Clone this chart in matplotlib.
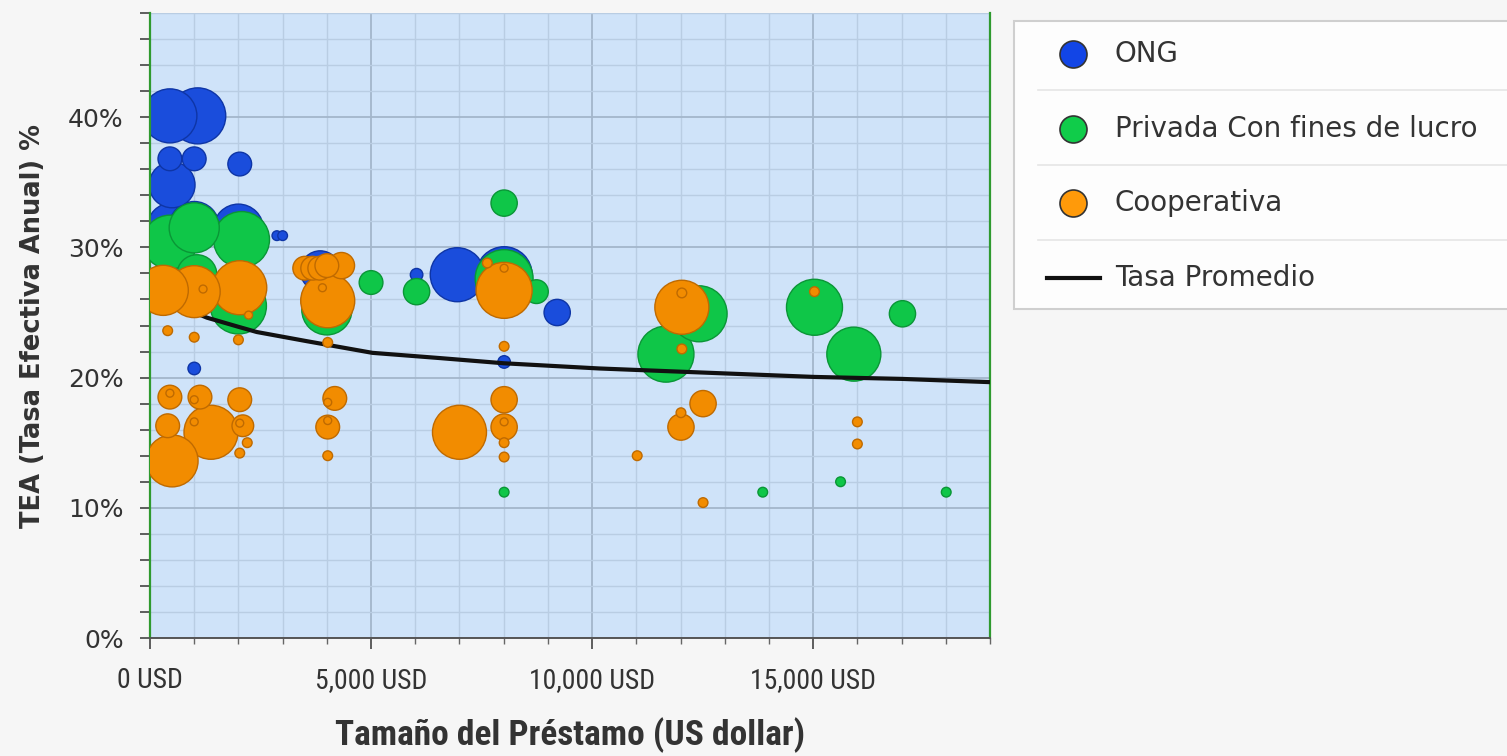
import numpy as np
import matplotlib
matplotlib.use("Agg")
import matplotlib.pyplot as plt
from matplotlib.ticker import MultipleLocator, FuncFormatter
from matplotlib.patches import Rectangle
from matplotlib import font_manager

# ---------------- data ----------------
series_names = ["ONG", "Privada Con fines de lucro", "Cooperativa"]
line_name = "Tasa Promedio"
x_label = "Tamaño del Préstamo (US dollar)"
y_label = "TEA (Tasa Efectiva Anual) %"

# ONG
ong_x = [450, 1080, 450, 1000, 2030, 500, 500, 1000, 2000, 2870, 3000, 3850, 6030, 6950, 8010, 9210, 1000, 8010]
ong_y = [40.1, 40.1, 36.8, 36.8, 36.4, 34.8, 31.5, 31.6, 31.4, 30.9, 30.9, 28.2, 27.9, 27.9, 27.9, 25.0, 20.7, 21.2]
ong_w = [93, 100, 18, 18, 18, 67, 80, 80, 80, 3, 3, 51, 5, 93, 100, 22, 5, 5]

# Privada con fines de lucro
priv_x = [450, 1000, 2070, 1060, 2000, 4000, 5000, 6030, 8010, 8010, 8740, 8010, 11670, 12420, 15030, 15920, 17020, 13860, 15620, 18010]
priv_y = [30.4, 31.5, 30.6, 27.9, 25.5, 25.2, 27.3, 26.6, 33.4, 27.6, 26.6, 11.2, 21.8, 24.9, 25.4, 21.8, 24.9, 11.2, 12.0, 11.2]
priv_w = [93, 80, 100, 51, 100, 80, 18, 22, 22, 107, 18, 3, 100, 100, 100, 93, 22, 3, 3, 3]

# Cooperativa
coop_x = [300, 1000, 2030, 1200, 2230, 400, 1000, 2000, 3500, 3680, 3840, 4000, 4330, 4020, 3900, 4020,
          450, 450, 1130, 1000, 2030, 400, 1380, 1000, 2100, 2030, 2200, 2030, 500,
          4180, 4020, 4020, 4020, 4020, 7000, 8010, 8010, 8010, 8010, 8010, 8010, 8010, 7630, 8010,
          12030, 12030, 12030, 12510, 12010, 12010, 11020, 12510, 15030, 16000, 16000]
coop_y = [26.7, 26.6, 26.9, 26.8, 24.8, 23.6, 23.1, 22.9, 28.4, 28.4, 28.4, 28.6, 28.6, 25.9, 26.9, 22.7,
          18.5, 18.8, 18.5, 18.3, 18.3, 16.3, 15.8, 16.6, 16.3, 16.5, 15.0, 14.2, 13.6,
          18.4, 18.1, 16.2, 16.7, 14.0, 15.8, 18.3, 16.2, 16.6, 15.0, 13.9, 22.4, 26.7, 28.8, 28.4,
          25.4, 26.5, 22.2, 18.0, 16.2, 17.3, 14.0, 10.4, 26.6, 16.6, 14.9]
coop_w = [80, 86, 93, 2, 2, 3, 3, 3, 18, 18, 18, 18, 22, 93, 2, 3,
          18, 2, 18, 2, 18, 18, 93, 2, 15, 2, 3, 3, 86,
          18, 2, 18, 2, 3, 93, 22, 22, 2, 3, 3, 3, 100, 3, 2,
          93, 3, 3, 22, 22, 3, 3, 3, 3, 3, 3]

# Tasa promedio
avg_x = [1000, 1290, 2000, 2415, 3540, 5030, 6550, 8000, 10160, 12400, 15030, 17000, 19000]
avg_y = [25.0, 24.6, 23.9, 23.5, 22.8, 21.9, 21.5, 21.1, 20.7, 20.4, 20.05, 19.9, 19.65]

# ---------------- style ----------------
W, H, DPI = 1507, 756, 100
fills = ["#1a4ddc", "#0fc648", "#f28c00"]
edges = ["#0e35a6", "#0a9636", "#bf6a00"]
legend_fills = ["#1245e6", "#10cc4a", "#ff9a0a"]

# condensed font for the x axis if available
names = {f.name for f in font_manager.fontManager.ttflist}
cond_fam = None
for cand in ["Liberation Sans Narrow", "DejaVu Sans Condensed", "Roboto Condensed", "Open Sans Condensed"]:
    if cand in names:
        cond_fam = cand
        break
has_dv_cond = any(f.name == "DejaVu Sans" and f.stretch in ("condensed", 300, "semi-condensed")
                  for f in font_manager.fontManager.ttflist)


def cond_props(size, bold=False):
    kw = dict(size=size, weight="bold" if bold else "normal")
    if cond_fam is not None:
        kw["family"] = [cond_fam, "DejaVu Sans"]
    elif has_dv_cond:
        kw["family"] = ["DejaVu Sans"]
        kw["stretch"] = "condensed"
    else:
        kw["family"] = ["DejaVu Sans"]
        kw["size"] = size * 0.8
    return kw


def px2pt(p):
    return p * 72.0 / DPI


def sizes(w):
    r_px = 2.8 * np.sqrt(np.asarray(w, dtype=float))
    return (2 * px2pt(r_px)) ** 2


fig = plt.figure(figsize=(W / DPI, H / DPI), dpi=DPI)
fig.patch.set_facecolor("#f6f6f6")

L, R, T, B = 150, 990, 13, 638
ax = fig.add_axes([L / W, (H - B) / H, (R - L) / W, (B - T) / H])
ax.set_facecolor("#cfe3f9")
ax.set_xlim(0, 19000)
ax.set_ylim(0, 48)

ax.xaxis.set_major_locator(MultipleLocator(5000))
ax.xaxis.set_minor_locator(MultipleLocator(1000))
ax.yaxis.set_major_locator(MultipleLocator(10))
ax.yaxis.set_minor_locator(MultipleLocator(2))
ax.grid(which="major", color="#a3b6cb", lw=1.3, zorder=0)
ax.grid(which="minor", color="#b9cde3", lw=1.0, zorder=0)
ax.set_axisbelow(True)

ax.xaxis.set_major_formatter(FuncFormatter(lambda v, p: f"{int(v):,} USD"))
ax.yaxis.set_major_formatter(FuncFormatter(lambda v, p: f"{int(v)}%"))

for s in ["left", "right"]:
    ax.spines[s].set_color("#2f9a2f")
    ax.spines[s].set_linewidth(1.6)
ax.spines["top"].set_visible(False)
ax.spines["bottom"].set_color("#555555")
ax.spines["bottom"].set_linewidth(1.4)

ax.tick_params(axis="y", which="both", length=7, width=1.2, color="#444444", direction="out",
               labelsize=18, labelcolor="#333333", pad=12)
ax.tick_params(axis="x", which="major", length=8, width=1.2, color="#444444", direction="out",
               labelcolor="#333333", pad=13)
ax.tick_params(axis="x", which="minor", length=4, width=1.0, color="#666666", direction="out")

series = [(ong_x, ong_y, ong_w), (priv_x, priv_y, priv_w), (coop_x, coop_y, coop_w)]
zorders = [2, 3, 5]
for i, (xs, ys, ws) in enumerate(series):
    order = np.argsort(-np.asarray(ws), kind="stable")
    xs_o = np.asarray(xs)[order]
    ys_o = np.asarray(ys)[order]
    ws_o = np.asarray(ws)[order]
    ax.scatter(xs_o, ys_o, s=sizes(ws_o), c=fills[i], edgecolors=edges[i],
               linewidths=1.0, zorder=zorders[i])

ax.plot(avg_x, avg_y, color="#111111", lw=3.0, zorder=4, solid_capstyle="butt")

fig.canvas.draw()
xt_kw = cond_props(20)
for lab in ax.get_xticklabels():
    lab.set_fontproperties(font_manager.FontProperties(**xt_kw))

ax.set_xlabel(x_label, color="#333333", labelpad=17,
              fontproperties=font_manager.FontProperties(**cond_props(25.5, bold=True)))
ax.set_ylabel(y_label, fontsize=18.5, fontweight="bold", color="#333333", labelpad=16)

# ---------------- legend ----------------
lx0, ly0, lx1, ly1 = 1013, 20, W, 310
lax = fig.add_axes([lx0 / W, (H - ly1) / H, (lx1 - lx0) / W, (ly1 - ly0) / H])
lax.set_xlim(0, lx1 - lx0)
lax.set_ylim(ly1 - ly0, 0)
lax.axis("off")
lax.add_patch(Rectangle((1, 1), (lx1 - lx0) + 10, (ly1 - ly0) - 2, facecolor="#fdfdfd",
                        edgecolor="#cfcfcf", lw=1.5, clip_on=False))
row_y = [34, 109, 183, 258]
for sy in [70, 145, 220]:
    lax.plot([25, lx1 - lx0], [sy, sy], color="#e6e6e6", lw=1.2)
for i, name in enumerate(series_names):
    lax.plot([60], [row_y[i]], marker="o", ms=px2pt(27), mfc=legend_fills[i],
             mec="#333333", mew=1.2, ls="none")
    lax.text(102, row_y[i], name, fontsize=20, color="#333333", va="center", ha="left")
lax.plot([34, 87], [row_y[3], row_y[3]], color="#111111", lw=3.0)
lax.text(102, row_y[3], line_name, fontsize=20, color="#333333", va="center", ha="left")

fig.savefig("out.png", dpi=DPI, facecolor=fig.get_facecolor())
